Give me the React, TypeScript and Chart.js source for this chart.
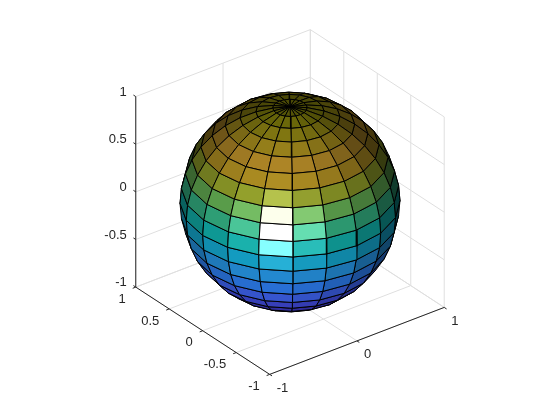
import React, { useEffect, useRef } from "react";
import { Chart, registerables } from "chart.js";

Chart.register(...registerables);

// Sphere mesh: edges of the latitude bands and of the longitude columns, in degrees
const latitudeEdges = [-90, -81, -72, -63, -54, -45, -36, -27, -18, -9, 0, 9, 18, 27, 36, 45, 54, 63, 72, 81, 90];
const longitudeEdges = [-180, -162, -144, -126, -108, -90, -72, -54, -36, -18, 0, 18, 36, 54, 72, 90, 108, 126, 144, 162, 180];

// Base colour of each latitude band, south to north (before lighting)
const bandColors = [
  [62, 38, 168], [63, 40, 173], [65, 44, 186], [68, 52, 207], [71, 65, 229],
  [72, 83, 245], [66, 105, 254], [47, 130, 249], [39, 153, 234], [21, 175, 217],
  [18, 190, 185], [58, 201, 148], [117, 204, 97], [181, 197, 51], [230, 187, 45],
  [254, 195, 56], [249, 211, 44], [245, 226, 33], [247, 240, 22], [249, 247, 20],
];

// Axis ticks
const xTicks = [-1, 0, 1];
const yTicks = [-1, -0.5, 0, 0.5, 1];
const zTicks = [-1, -0.5, 0, 0.5, 1];

// View and light
const azimuth = -37.5;
const elevation = 30;
const lightInView = [-0.185, -0.5, 0.846];
const ambient = 0.3;
const diffuse = 0.6;
const specular = 0.9;
const shininess = 10;

const WIDTH = 560;
const HEIGHT = 420;
const SCALE = 110;
const CX = 290;
const CY = 202;

const rad = (d: number) => (d * Math.PI) / 180;
const sa = Math.sin(rad(azimuth));
const ca = Math.cos(rad(azimuth));
const se = Math.sin(rad(elevation));
const ce = Math.cos(rad(elevation));

type V3 = [number, number, number];
// view space: right, up, towards the camera
const toView = ([x, y, z]: V3): V3 => [
  x * ca + y * sa,
  -x * se * sa + y * se * ca + z * ce,
  x * ce * sa - y * ce * ca + z * se,
];
const project = (p: V3) => {
  const v = toView(p);
  return { x: v[0], y: v[1] };
};
const onSphere = (lat: number, lon: number): V3 => [
  Math.cos(rad(lat)) * Math.cos(rad(lon)),
  Math.cos(rad(lat)) * Math.sin(rad(lon)),
  Math.sin(rad(lat)),
];

function shade(base: number[], center: V3) {
  const len = Math.hypot(...center);
  const n = toView(center).map((c) => c / len);
  const l = lightInView;
  const ndl = n[0] * l[0] + n[1] * l[1] + n[2] * l[2];
  const d = Math.max(0, ndl);
  const rz = 2 * ndl * n[2] - l[2];
  const s = ndl > 0 ? Math.pow(Math.max(0, rz), shininess) : 0;
  const c = base.map((b) =>
    Math.min(255, Math.round((ambient + diffuse * d) * b + specular * s * 255))
  );
  return `rgb(${c[0]},${c[1]},${c[2]})`;
}

function sphereFaces() {
  const faces: { depth: number; points: { x: number; y: number }[]; color: string }[] = [];
  for (let i = 0; i < latitudeEdges.length - 1; i++) {
    for (let j = 0; j < longitudeEdges.length - 1; j++) {
      const corners: V3[] = [
        onSphere(latitudeEdges[i], longitudeEdges[j]),
        onSphere(latitudeEdges[i], longitudeEdges[j + 1]),
        onSphere(latitudeEdges[i + 1], longitudeEdges[j + 1]),
        onSphere(latitudeEdges[i + 1], longitudeEdges[j]),
      ];
      const center: V3 = [0, 1, 2].map(
        (k) => (corners[0][k] + corners[1][k] + corners[2][k] + corners[3][k]) / 4
      ) as V3;
      const depth = toView(center)[2];
      if (depth < -0.15) continue;
      const pts = corners.map(project);
      faces.push({ depth, points: [...pts, pts[0]], color: shade(bandColors[i], center) });
    }
  }
  return faces.sort((a, b) => b.depth - a.depth);
}

const lineSet = (a: V3, b: V3, color: string) => ({
  type: "scatter" as const,
  data: [project(a), project(b)],
  showLine: true,
  fill: false,
  borderColor: color,
  borderWidth: 1,
  pointRadius: 0,
  tension: 0,
});

const GRID = "#dfdfdf";
const AXIS = "#262626";
const TICK = 0.035;

function axisSets() {
  const s: any[] = [];
  for (const x of xTicks) {
    s.push(lineSet([x, -1, -1], [x, 1, -1], GRID));
    s.push(lineSet([x, 1, -1], [x, 1, 1], GRID));
  }
  for (const y of yTicks) {
    s.push(lineSet([-1, y, -1], [1, y, -1], GRID));
    s.push(lineSet([1, y, -1], [1, y, 1], GRID));
  }
  for (const z of zTicks) {
    s.push(lineSet([-1, 1, z], [1, 1, z], GRID));
    s.push(lineSet([1, 1, z], [1, -1, z], GRID));
  }
  return s;
}

function frontAxisSets() {
  const s: any[] = [
    lineSet([-1, -1, -1], [1, -1, -1], AXIS),
    lineSet([-1, -1, -1], [-1, 1, -1], AXIS),
    lineSet([-1, 1, -1], [-1, 1, 1], AXIS),
  ];
  for (const x of xTicks) s.push(lineSet([x, -1, -1], [x, -1 - TICK, -1], AXIS));
  for (const y of yTicks) s.push(lineSet([-1, y, -1], [-1 - TICK, y, -1], AXIS));
  for (const z of zTicks) s.push(lineSet([-1, 1, z], [-1, 1 + TICK, z], AXIS));
  return s;
}

const labelPlugin = {
  id: "tickLabels",
  afterDraw(chart: any) {
    const { ctx, scales } = chart;
    const px = (p: V3) => {
      const q = project(p);
      return [scales.x.getPixelForValue(q.x), scales.y.getPixelForValue(q.y)];
    };
    ctx.save();
    ctx.font = '13px "Liberation Sans", Arial, sans-serif';
    ctx.fillStyle = AXIS;
    ctx.textBaseline = "middle";
    ctx.textAlign = "left";
    for (const x of xTicks) {
      const [a, b] = px([x, -1, -1]);
      ctx.fillText(String(x), a + 7, b + 14);
    }
    ctx.textAlign = "right";
    for (const y of yTicks) {
      const [a, b] = px([-1, y, -1]);
      ctx.fillText(String(y), a - 10, b + 12);
    }
    for (const z of zTicks) {
      const [a, b] = px([-1, 1, z]);
      ctx.fillText(String(z), a - 9, b - 4.5);
    }
    ctx.restore();
  },
};

export default function App() {
  const ref = useRef<HTMLCanvasElement>(null);
  useEffect(() => {
    document.body.style.margin = "0";
    const faceSets = sphereFaces().map((f) => ({
      type: "scatter" as const,
      data: f.points,
      showLine: true,
      fill: "shape",
      backgroundColor: f.color,
      borderColor: "#000000",
      borderWidth: 1,
      pointRadius: 0,
      tension: 0,
    }));
    const chart = new Chart(ref.current as HTMLCanvasElement, {
      type: "scatter",
      data: { datasets: [...frontAxisSets(), ...faceSets, ...axisSets()] as any },
      options: {
        animation: false,
        responsive: false,
        events: [],
        layout: { padding: 0 },
        plugins: { legend: { display: false }, tooltip: { enabled: false } },
        scales: {
          x: { type: "linear", display: false, min: -CX / SCALE, max: (WIDTH - CX) / SCALE },
          y: { type: "linear", display: false, min: -(HEIGHT - CY) / SCALE, max: CY / SCALE },
        },
      } as any,
      plugins: [labelPlugin],
    });
    return () => chart.destroy();
  }, []);
  return <canvas ref={ref} width={WIDTH} height={HEIGHT} style={{ display: "block" }} />;
}
